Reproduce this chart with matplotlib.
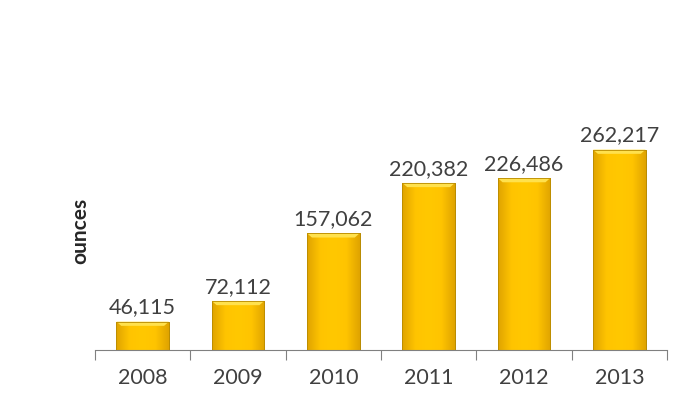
import matplotlib
matplotlib.use("Agg")
import matplotlib.pyplot as plt
import numpy as np
from matplotlib.colors import LinearSegmentedColormap

years = ["2008", "2009", "2010", "2011", "2012", "2013"]
ounces = [46115, 72112, 157062, 220382, 226486, 262217]
labels = ["46,115", "72,112", "157,062", "220,382", "226,486", "262,217"]

plt.rcParams['font.family'] = ['Lato', 'DejaVu Sans']

fig = plt.figure(figsize=(6.91, 3.93), dpi=100)
ax = fig.add_axes([95/691, (393-350)/393, (667-95)/691, 350/393])

x = np.arange(len(years))
width = 0.55
bars = ax.bar(x, ounces, width=width, color="#FFC400", edgecolor="#B88A00", linewidth=0.6, zorder=2)

ymin, ymax = 10500, 450200
ax.set_ylim(ymin, ymax)
ax.set_xlim(-0.5, len(years) - 0.5)

cmap = LinearSegmentedColormap.from_list("gold", ["#E0A400", "#FFC400", "#FFC800", "#FFC400", "#E0A400"])
grad = np.linspace(0, 1, 64).reshape(1, -1)
for i, b in enumerate(bars):
    x0, w = b.get_x(), b.get_width()
    h = b.get_height()
    im = ax.imshow(grad, cmap=cmap, aspect='auto', extent=(x0, x0 + w, ymin, h),
                   zorder=2.5, interpolation='bicubic')
    im.set_clip_path(b)
    bev = (ymax - ymin) * 0.012
    ax.fill([x0, x0 + w, x0 + w - 0.05, x0 + 0.05], [h, h, h - bev, h - bev],
            color="#FFE14D", zorder=2.6, linewidth=0)
    ax.plot([x0, x0 + w, x0 + w, x0, x0], [ymin, ymin, h, h, ymin], color="#B88A00", lw=0.6, zorder=2.7)
    ax.text(x0 + w / 2, h + (ymax - ymin) * 0.012, labels[i],
            ha="center", va="bottom", fontsize=15.5, color="#404040")

for s in ["top", "right", "left"]:
    ax.spines[s].set_visible(False)
ax.spines["bottom"].set_color("#808080")
ax.set_yticks([])
ax.set_xticks(np.arange(-0.5, len(years), 1.0))
ax.set_xticklabels([])
ax.set_xticks(x, minor=True)
ax.set_xticklabels(years, minor=True, fontsize=15.5, color="#404040")
ax.tick_params(axis="x", which="major", length=7, color="#808080", direction="out")
ax.tick_params(axis="x", which="minor", length=0, pad=13)

fig.text(80/691, 1 - 231/393, "ounces", rotation=90, ha="center", va="center",
         fontsize=15, fontweight="bold", color="#262626")

fig.savefig("out.png", dpi=100)
